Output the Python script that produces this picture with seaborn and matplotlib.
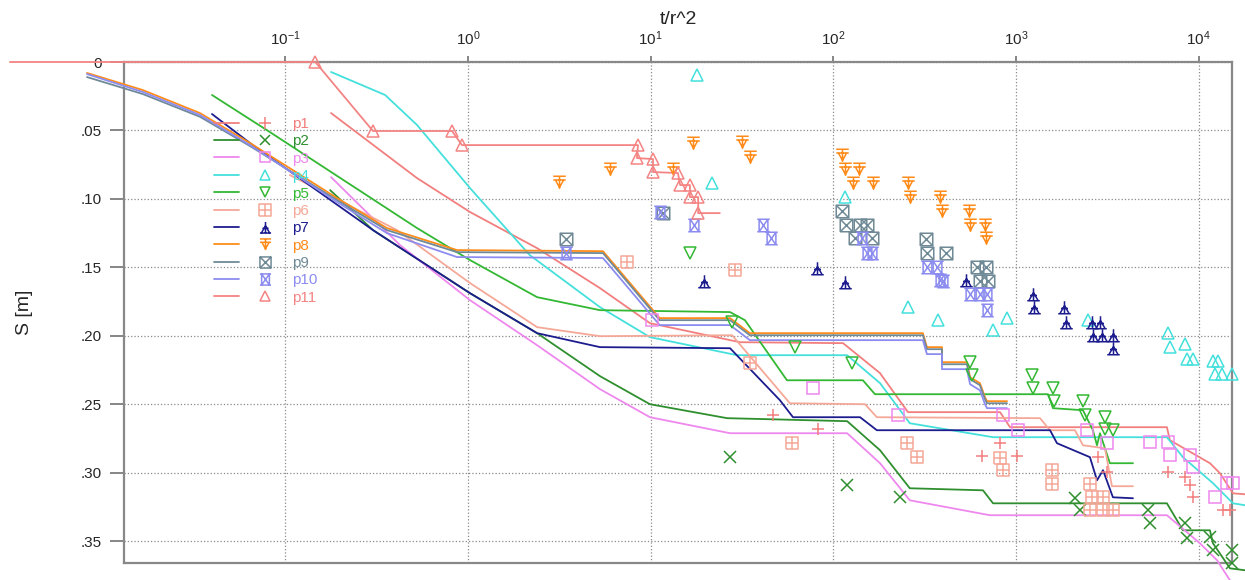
import matplotlib
matplotlib.use("Agg")
import matplotlib.pyplot as plt
from matplotlib.path import Path
from matplotlib.lines import Line2D
from matplotlib.legend_handler import HandlerTuple
from matplotlib.ticker import NullLocator
import seaborn as sns

# ---- data (x = t/r^2, y = S [m]) ----
labels = ["p1", "p2", "p3", "p4", "p5", "p6", "p7", "p8", "p9", "p10", "p11"]
colors = ["#f27e7e", "#2f8f2f", "#ee88ee", "#44e0dc", "#33b833", "#f5a898",
          "#1c1c8e", "#ff8c1a", "#6f8a96", "#8c8cf0", "#f48484"]

# model curves
p1_line_x = [0.178, 0.526, 1.026, 2.39, 5.28, 9.91, 30.8, 113, 180, 256, 817, 927, 6693, 6950, 11510, 13060, 15390, 17900]
p1_line_y = [.0373, .0848, .1096, .136, .1652, .1908, .2047, .2054, .2273, .2558, .2558, .2668, .2668, .2763, .2931, .3004, .3151, .3158]
p2_line_x = [0.176, 0.302, 1.026, 2.39, 5.28, 9.91, 26.2, 119, 180, 262, 659, 748, 6693, 8186, 11510, 11960, 14820, 17900]
p2_line_y = [.0936, .1228, .1689, .1981, .2295, .25, .2602, .2624, .2836, .3114, .3129, .3224, .3224, .3421, .3421, .3516, .3699, .3713]
p3_line_x = [0.178, 0.425, 1.026, 2.39, 5.28, 9.91, 27.2, 119, 180, 262, 719, 6693, 10150, 12590, 14820]
p3_line_y = [.0841, .1338, .174, .2069, .239, .2595, .2712, .2712, .2931, .3202, .3311, .3311, .3516, .364, .3787]
p4_line_x = [0.178, 0.352, 0.526, 1.026, 2.18, 5.28, 9.91, 29.7, 119, 180, 262, 748, 6693, 8186, 11960, 15390, 17900]
p4_line_y = [.0073, .0241, .046, .0921, .1411, .1791, .201, .2142, .2142, .2346, .2639, .2741, .2741, .2887, .3077, .3224, .3238]
p5_line_x = [0.0397, 0.0824, 0.526, 1.026, 2.39, 5.28, 27.2, 32.8, 55.7, 145, 169, 1496, 1592, 2323, 2634, 2773, 2879, 3263, 4363]
p5_line_y = [.0241, .0512, .1213, .1447, .1718, .1813, .1827, .1886, .2325, .2325, .2427, .2427, .2529, .2544, .269, .28, .2712, .2931, .2931]
p6_line_x = [0.106, 0.409, 1.026, 2.39, 5.28, 27.9, 57.8, 149, 173, 1352, 1534, 2101, 2323, 3065, 3347, 4363]
p6_line_y = [.0826, .1228, .1615, .1937, .2003, .1996, .2493, .25, .2595, .2602, .269, .269, .28, .2822, .3099, .3099]
p7_line_x = [0.0397, 0.0641, 0.302, 1.026, 2.39, 5.28, 27.2, 51.0, 60.1, 140, 173, 1534, 1675, 2537, 2773, 2991, 3389, 4363]
p7_line_y = [.038, .0592, .1228, .1689, .1981, .2083, .2091, .2471, .2595, .2595, .269, .269, .2785, .2887, .3056, .2982, .318, .3187]
group_x = [0.00822, 0.0166, 0.0341, 0.0641, 0.192, 0.360, 0.871, 5.48, 11.2, 27.2, 34.9, 309, 325, 393, 393, 538, 560, 634, 676, 693, 892]
p8_line_y = [.008, .0205, .0373, .0592, .0994, .1213, .1374, .1382, .1871, .1871, .1981, .1981, .2083, .2083, .2193, .2193, .2303, .2346, .2449, .2478, .2478]
p9_line_y = [.011, .0234, .040, .0614, .1009, .1228, .1389, .1396, .1886, .1886, .1996, .1996, .2098, .2098, .2208, .2208, .2317, .2361, .2463, .2493, .2493]
p10_line_y = [.0088, .0219, .0387, .0607, .1023, .125, .1425, .1432, .1922, .1922, .2032, .2032, .2134, .2134, .2244, .2244, .2354, .2398, .25, .2529, .2529]
p11_line_x = [0.00311, 0.146, 0.302, 0.818, 0.927, 8.52, 8.41, 10.3, 10.3, 14.1, 14.5, 16.4, 16.4, 18.2, 18.2, 23.9]
p11_line_y = [0, 0, .0504, .0504, .0607, .0607, .0702, .0709, .0804, .0811, .0899, .0899, .0987, .0987, .1104, .1104]

# observed points
p1_obs_x = [46.7, 82.4, 650, 817, 1012, 2808, 3142, 6777, 8395, 8945, 9290, 13570, 14820]
p1_obs_y = [.258, .2683, .288, .2785, .288, .2887, .2997, .2997, .3034, .3092, .318, .3275, .3275]
p2_obs_x = [27.2, 119, 232, 2101, 2237, 5272, 5408, 8395, 8608, 11510, 11960, 15200, 15200]
p2_obs_y = [.2887, .3092, .318, .3187, .3275, .3275, .337, .337, .348, .3472, .3567, .3567, .3662]
p3_obs_x = [10.2, 77.3, 226, 848, 1024, 2444, 3142, 5408, 6777, 6950, 8945, 9290, 12270, 14270, 15390]
p3_obs_y = [.1886, .2383, .258, .258, .269, .269, .2785, .2778, .2778, .2873, .2873, .296, .318, .3077, .3077]
p4_obs_x = [17.9, 21.7, 116, 256, 373, 748, 892, 2477, 6777, 6950, 8395, 8608, 9290, 11960, 12740, 12270, 13390, 15200]
p4_obs_y = [.0095, .0884, .0987, .1791, .1886, .1959, .1871, .1886, .1981, .2083, .2061, .2171, .2171, .2186, .2186, .2281, .2281, .2281]
p5_obs_x = [16.4, 27.9, 61.6, 126, 560, 574, 1222, 1237, 1592, 1612, 2323, 2383, 3065, 3065, 3389]
p5_obs_y = [.1396, .19, .2083, .22, .2193, .2288, .2288, .2383, .2383, .2478, .2478, .258, .2595, .2683, .269]
p6_obs_x = [7.41, 28.9, 34.9, 59.3, 253, 287, 817, 848, 1572, 1572, 2537, 2602, 2991, 2537, 2991, 3389]
p6_obs_y = [.1462, .152, .22, .2785, .2785, .2887, .2895, .2982, .2982, .3085, .3085, .318, .318, .3275, .3275, .3275]
p7_obs_x = [19.6, 81.3, 116, 532, 1237, 1253, 1830, 1876, 2602, 2879, 2634, 2951, 3389, 3389]
p7_obs_y = [.1601, .1506, .1608, .1594, .1696, .1791, .1791, .19, .19, .19, .1996, .1996, .1996, .2091]
p8_obs_x = [3.15, 5.99, 17.1, 31.6, 34.9, 13.2, 111, 116, 138, 128, 165, 256, 262, 383, 393, 552, 560, 676, 684]
p8_obs_y = [.0877, .0782, .0592, .0585, .0694, .0782, .068, .0782, .0782, .0884, .0884, .0884, .0987, .0987, .1089, .1089, .1192, .1192, .1287]
p9_obs_x = [3.44, 11.7, 111, 117, 140, 153, 131, 163, 321, 325, 413, 611, 684, 634, 702]
p9_obs_y = [.1294, .1104, .1089, .1192, .1192, .1192, .1287, .1287, .1294, .1396, .1396, .1499, .1499, .1601, .1601]
p10_obs_x = [3.44, 11.2, 17.3, 41.2, 45.5, 143, 153, 163, 325, 369, 383, 398, 560, 634, 693, 693]
p10_obs_y = [.1396, .1096, .1192, .1192, .1287, .1287, .1396, .1396, .1499, .1499, .1594, .1601, .1696, .1696, .1696, .1813]
p11_obs_x = p11_line_x[1:-1]
p11_obs_y = p11_line_y[1:-1]

x_ticks = [0.1, 1, 10, 100, 1000, 10000]
x_tick_labels = [r"$\mathregular{10^{-1}}$", r"$\mathregular{10^{0}}$", r"$\mathregular{10^{1}}$",
                 r"$\mathregular{10^{2}}$", r"$\mathregular{10^{3}}$", r"$\mathregular{10^{4}}$"]
y_ticks = [0, 0.05, 0.10, 0.15, 0.20, 0.25, 0.30, 0.35]
y_tick_labels = ["0", ".05", ".10", ".15", ".20", ".25", ".30", ".35"]


# ---- custom line-art markers ----
def seg_path(segs):
    verts, codes = [], []
    for s in segs:
        for i, v in enumerate(s):
            verts.append(v)
            codes.append(Path.MOVETO if i == 0 else Path.LINETO)
    return Path(verts, codes)


sq = [(-1, -1), (1, -1), (1, 1), (-1, 1), (-1, -1)]
box_plus = seg_path([sq, [(0, -1), (0, 1)], [(-1, 0), (1, 0)]])
box_times = seg_path([sq, [(-1, -1), (1, 1)], [(-1, 1), (1, -1)]])
tower = seg_path([[(-1, -1), (1, -1)], [(-0.75, -1), (0, 0.3), (0.75, -1)],
                  [(0, -1), (0, 1)], [(-0.55, -0.15), (0.55, -0.15)]])
tee = seg_path([[(-1, 1), (1, 1)], [(-1, 0.4), (1, 0.4)],
                [(-0.65, 0.4), (0, -0.8), (0.65, 0.4)], [(0, 1), (0, -1)]])
hourglass = seg_path([[(-1, 1), (1, 1)], [(-1, -1), (1, -1)],
                      [(-0.7, 1), (0.7, -1)], [(0.7, 1), (-0.7, -1)],
                      [(-0.7, 1), (-0.7, -1)], [(0.7, 1), (0.7, -1)]])
markers = ["+", "x", "s", "^", "v", box_plus, tower, tee, box_times, hourglass, "^"]
msizes = [9, 8, 8, 8, 8, 9, 9, 9, 9, 9, 8]

line_x = [p1_line_x, p2_line_x, p3_line_x, p4_line_x, p5_line_x, p6_line_x, p7_line_x,
          group_x, group_x, group_x, p11_line_x]
line_y = [p1_line_y, p2_line_y, p3_line_y, p4_line_y, p5_line_y, p6_line_y, p7_line_y,
          p8_line_y, p9_line_y, p10_line_y, p11_line_y]
obs_x = [p1_obs_x, p2_obs_x, p3_obs_x, p4_obs_x, p5_obs_x, p6_obs_x, p7_obs_x,
         p8_obs_x, p9_obs_x, p10_obs_x, p11_obs_x]
obs_y = [p1_obs_y, p2_obs_y, p3_obs_y, p4_obs_y, p5_obs_y, p6_obs_y, p7_obs_y,
         p8_obs_y, p9_obs_y, p10_obs_y, p11_obs_y]

sns.set_theme(style="white")
plt.rcParams["font.family"] = ["Liberation Sans", "DejaVu Sans"]
plt.rcParams["mathtext.fontset"] = "custom"
plt.rcParams["mathtext.rm"] = "Liberation Sans"

fig = plt.figure(figsize=(12.45, 5.8), dpi=100)
ax = fig.add_axes([124 / 1245, 1 - 563 / 580, 1108 / 1245, 501 / 580])
ax.set_xscale("log")
ax.set_xlim(0.0131, 15200)
ax.set_ylim(0.366, 0)

for i in range(11):
    sns.lineplot(x=line_x[i], y=line_y[i], sort=False, estimator=None, color=colors[i],
                 lw=1.3, ax=ax, clip_on=False, legend=False, zorder=3)
    ax.plot(obs_x[i], obs_y[i], ls="none", marker=markers[i], ms=msizes[i], mfc="none",
            mec=colors[i], mew=1.1, clip_on=False, zorder=4)

ax.set_xticks(x_ticks)
ax.set_xticklabels(x_tick_labels, fontsize=11)
ax.xaxis.set_minor_locator(NullLocator())
ax.set_yticks(y_ticks)
ax.set_yticklabels(y_tick_labels, fontsize=11)
ax.xaxis.tick_top()
ax.xaxis.set_label_position("top")
ax.tick_params(axis="x", which="major", direction="out", length=4, color="#777777",
               pad=6, top=True, bottom=False)
ax.tick_params(axis="y", which="major", direction="out", length=10, color="#777777",
               pad=6, left=True)
ax.set_xlabel("t/r^2", fontsize=14, labelpad=4)
ax.set_ylabel("S [m]", fontsize=14, labelpad=34)
ax.grid(True, which="major", ls=":", color="#8a8a8a", lw=0.9)
for sp in ax.spines.values():
    sp.set_color("#888888")
    sp.set_linewidth(1.6)

handles = []
for i in range(11):
    handles.append((Line2D([], [], color=colors[i], lw=1.3),
                    Line2D([], [], ls="none", marker=markers[i], ms=msizes[i] - 1,
                           mfc="none", mec=colors[i], mew=1.1)))
leg = ax.legend(handles=handles, labels=labels,
                handler_map={tuple: HandlerTuple(ndivide=None, pad=0.9)},
                loc="upper left", bbox_to_anchor=(0.081, 0.89), frameon=False,
                handlelength=4.2, handletextpad=0.9, labelspacing=0.22, fontsize=11,
                labelcolor=colors, borderpad=0, borderaxespad=0)

fig.savefig("out.png", dpi=100)
